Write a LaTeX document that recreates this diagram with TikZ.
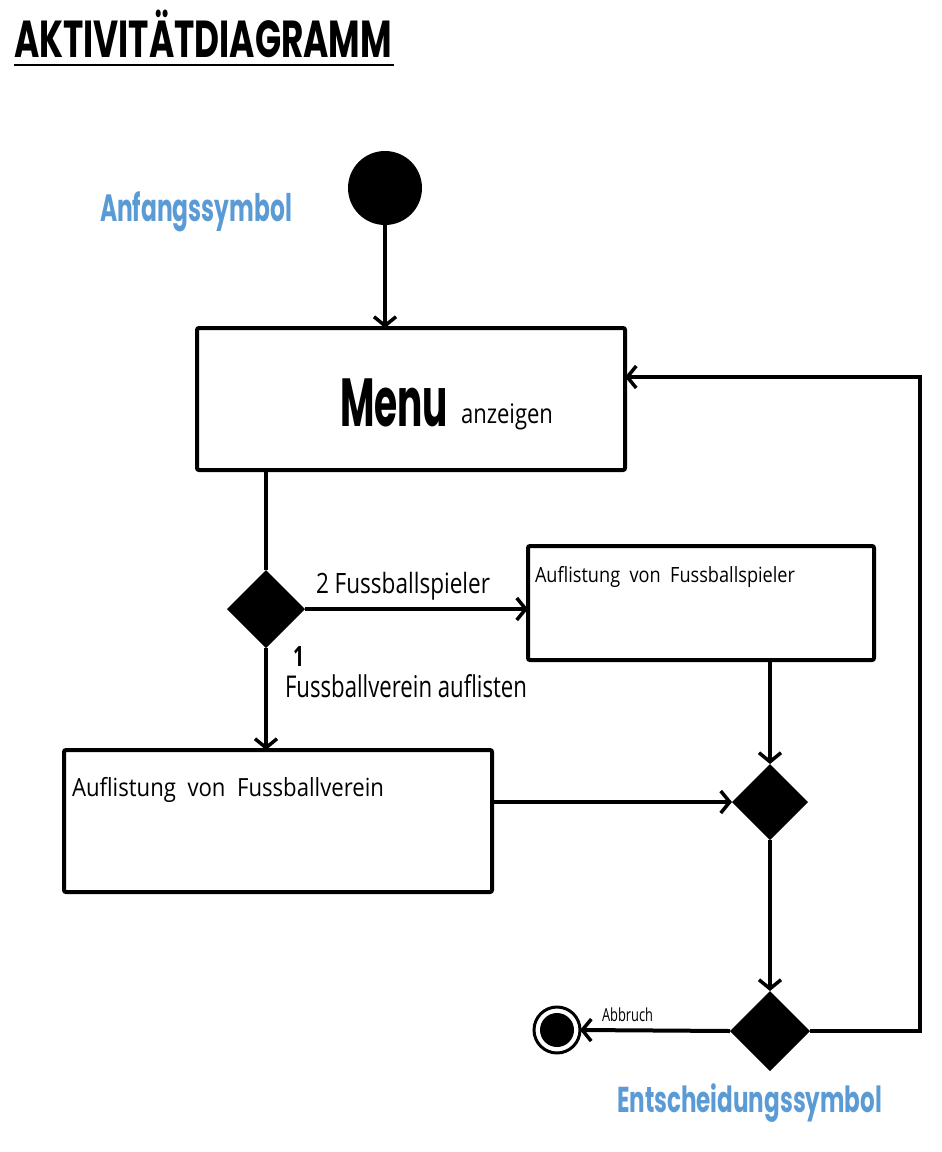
\documentclass[tikz,border=0pt]{standalone}
\usepackage{fontspec}
\setmainfont{Poppins}
\newfontfamily\handfont{Open Sans}
\usetikzlibrary{arrows.meta,shapes.geometric}
\definecolor{labelblue}{RGB}{91,155,213}
\newcommand{\fitw}[3]{\resizebox{#1}{\height}{\fontsize{#2}{#2}\selectfont #3}}
\begin{document}
\begin{tikzpicture}[x=1pt,y=-1pt,line width=4pt,
  box/.style={draw,rectangle,rounded corners=2pt,outer sep=0pt,inner sep=0pt},
  dec/.style={diamond,fill=black,draw=none,inner sep=0pt,outer sep=0pt,aspect=1},
  flow/.style={-{Straight Barb[length=9pt,width=22pt,line width=3.5pt]}},
  txt/.style={anchor=base west,inner sep=0pt,outer sep=0pt},
  blue/.style={txt,text=labelblue,font=\bfseries},
  hand/.style={txt,font=\handfont},
]
\useasboundingbox (0,0) rectangle (942,1152);
% title
\node[txt,font=\bfseries] (title) at (14,57) {\fitw{378pt}{52pt}{AKTIVITÄTDIAGRAMM}};
\draw[line width=2pt] (14,65) -- (394,65);
\node[blue] (anf) at (100,221) {\fitw{192pt}{38pt}{Anfangssymbol}};
\node[blue] (ents) at (617,1112) {\fitw{265pt}{36pt}{Entscheidungssymbol}};
% shapes
\node[circle,fill=black,minimum size=74pt,inner sep=0pt,outer sep=0pt] (start) at (385,188) {};
\node[box,minimum width=428pt,minimum height=142pt] (menu) at (411,399) {};
\node[box,minimum width=346pt,minimum height=114pt] (box2) at (701,603) {};
\node[box,minimum width=428pt,minimum height=142pt] (box3) at (278,821) {};
\node[dec,minimum size=78pt] (d1) at (266,609) {};
\node[dec,minimum size=76pt] (d2) at (770,802) {};
\node[dec,minimum size=80pt] (d3) at (770,1031) {};
\node[circle,draw,line width=3pt,minimum size=46pt,inner sep=0pt,outer sep=0pt] (endc) at (557,1030) {};
\fill (endc.center) circle (17pt);
% texts
\node[txt,font=\bfseries] (menut) at (340,426) {\fitw{108pt}{68pt}{Menu}};
\node[hand] (anz) at (461,423) {\fitw{92pt}{27pt}{anzeigen}};
\node[hand] (l2) at (316,593) {\fitw{174pt}{28pt}{2 Fussballspieler}};
\node[hand] (t2) at (535,582) {\fitw{260pt}{21pt}{Auflistung\ \ von\ \ Fussballspieler}};
\node[hand,font=\handfont\bfseries] (l1) at (293,666) {\fitw{11pt}{28pt}{1}};
\node[hand] (l1b) at (285,697) {\fitw{242pt}{30pt}{Fussballverein auflisten}};
\node[hand] (t3) at (72,796) {\fitw{312pt}{25pt}{Auflistung\ \ von\ \ Fussballverein}};
\node[hand] (abb) at (602,1021) {\fitw{51pt}{18pt}{Abbruch}};
% connectors
\draw[flow] (start.south) -- (start.south |- menu.north);
\draw (menu.south -| d1.north) -- (d1.north);
\draw[flow] (d1.east) -- (d1.east -| box2.west);
\draw[flow] (d1.south) -- (d1.south |- box3.north);
\draw[flow] (box3.east |- d2.west) -- (d2.west);
\draw[flow] (box2.south -| d2.north) -- (d2.north);
\draw[flow] (d2.south) -- (d3.north);
\draw[flow] (d3.west) -- (endc.east);
\coordinate (c1) at (920,1031);
\coordinate (c2) at (920,377);
\draw[flow] (d3.east) -- (c1) -- (c2) -- (c2 -| menu.east);
\end{tikzpicture}
\end{document}
